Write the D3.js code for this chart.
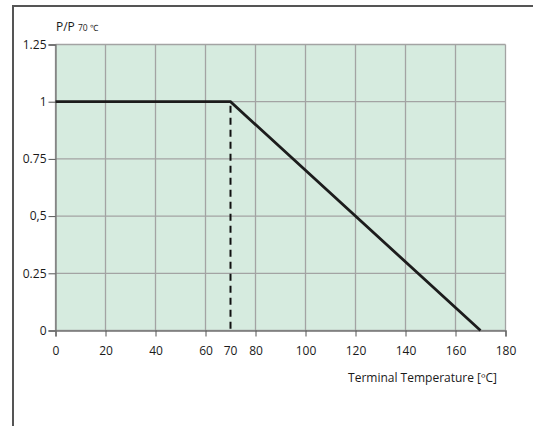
<!DOCTYPE html>
<html>
<head>
<meta charset="utf-8">
<script src="https://cdn.jsdelivr.net/npm/d3@7"></script>
<style>
  body { margin: 0; background: #fff; }
  svg { display: block; font-family: "Open Sans", sans-serif; }
</style>
</head>
<body>
<svg width="533" height="427"></svg>
<script>
// derating curve: P/P70 against terminal temperature
var temps = [0, 70, 170];
var power = [1, 1, 0];

var xTicks = [0, 20, 40, 60, 80, 100, 120, 140, 160, 180];
var yTicks = [0, 0.25, 0.5, 0.75, 1, 1.25];
var yLabels = ["0", "0.25", "0,5", "0.75", "1", "1.25"];
var kneeTemp = 70;

var svg = d3.select("svg"),
    width = +svg.attr("width"),
    height = +svg.attr("height");

var x = d3.scaleLinear().domain([0, 180]).range([55.5, 505.5]);
var y = d3.scaleLinear().domain([0, 1.25]).range([330.5, 44.5]);

// outer frame (top + left only)
svg.append("path")
    .attr("d", "M13,426V6H533")
    .attr("fill", "none")
    .attr("stroke", "#555")
    .attr("stroke-width", 2);

// plot background
svg.append("rect")
    .attr("x", x(0)).attr("y", y(1.25))
    .attr("width", x(180) - x(0))
    .attr("height", y(0) - y(1.25))
    .attr("fill", "#d6ebdf");

// grid
svg.append("g").selectAll("line")
    .data(xTicks).enter().append("line")
    .attr("x1", function(d) { return x(d); })
    .attr("x2", function(d) { return x(d); })
    .attr("y1", y(0)).attr("y2", y(1.25))
    .attr("stroke", "#a3a3a3").attr("stroke-width", 1.3);

svg.append("g").selectAll("line")
    .data(yTicks).enter().append("line")
    .attr("y1", function(d) { return y(d); })
    .attr("y2", function(d) { return y(d); })
    .attr("x1", x(0)).attr("x2", x(180))
    .attr("stroke", "#a3a3a3").attr("stroke-width", 1.3);

// axes
var xAxis = svg.append("g")
    .attr("transform", "translate(0," + y(0) + ")")
    .call(d3.axisBottom(x).tickValues(xTicks).tickSize(6).tickPadding(10));
var yAxis = svg.append("g")
    .attr("transform", "translate(" + x(0) + ",0)")
    .call(d3.axisLeft(y).tickValues(yTicks).tickSize(7).tickPadding(2)
        .tickFormat(function(d, i) { return yLabels[i]; }));

[xAxis, yAxis].forEach(function(a) {
    a.select(".domain").attr("stroke", "#777").attr("stroke-width", 1.3);
    a.selectAll(".tick line").attr("stroke", "#555");
    a.selectAll("text").attr("fill", "#1a1a1a")
        .style("font-size", "12px").style("font-family", "Open Sans, sans-serif");
});

// extra 70 label, no tick mark
svg.append("text")
    .attr("x", x(kneeTemp)).attr("y", y(0) + 16)
    .attr("dy", "0.71em")
    .attr("text-anchor", "middle")
    .attr("fill", "#1a1a1a")
    .style("font-size", "12px")
    .text(kneeTemp);

// dashed line at the knee
svg.append("line")
    .attr("x1", x(kneeTemp)).attr("x2", x(kneeTemp))
    .attr("y1", y(1) + 4).attr("y2", y(0))
    .attr("stroke", "#111")
    .attr("stroke-width", 2)
    .attr("stroke-dasharray", "7,5");

// curve
var line = d3.line()
    .x(function(d, i) { return x(temps[i]); })
    .y(function(d, i) { return y(power[i]); });

svg.append("path")
    .datum(temps)
    .attr("d", line)
    .attr("fill", "none")
    .attr("stroke", "#1c1c1c")
    .attr("stroke-width", 2.8);

// y title
var title = svg.append("text")
    .attr("x", 56).attr("y", 31)
    .attr("fill", "#1a1a1a")
    .style("font-size", "12px");
title.append("tspan").text("P/P ");
title.append("tspan").style("font-size", "8.5px").text("70 \u2103");

// x title
svg.append("text")
    .attr("x", 497).attr("y", 382)
    .attr("text-anchor", "end")
    .attr("fill", "#1a1a1a")
    .style("font-size", "12px")
    .text("Terminal Temperature [\u00baC]");
</script>
</body>
</html>
